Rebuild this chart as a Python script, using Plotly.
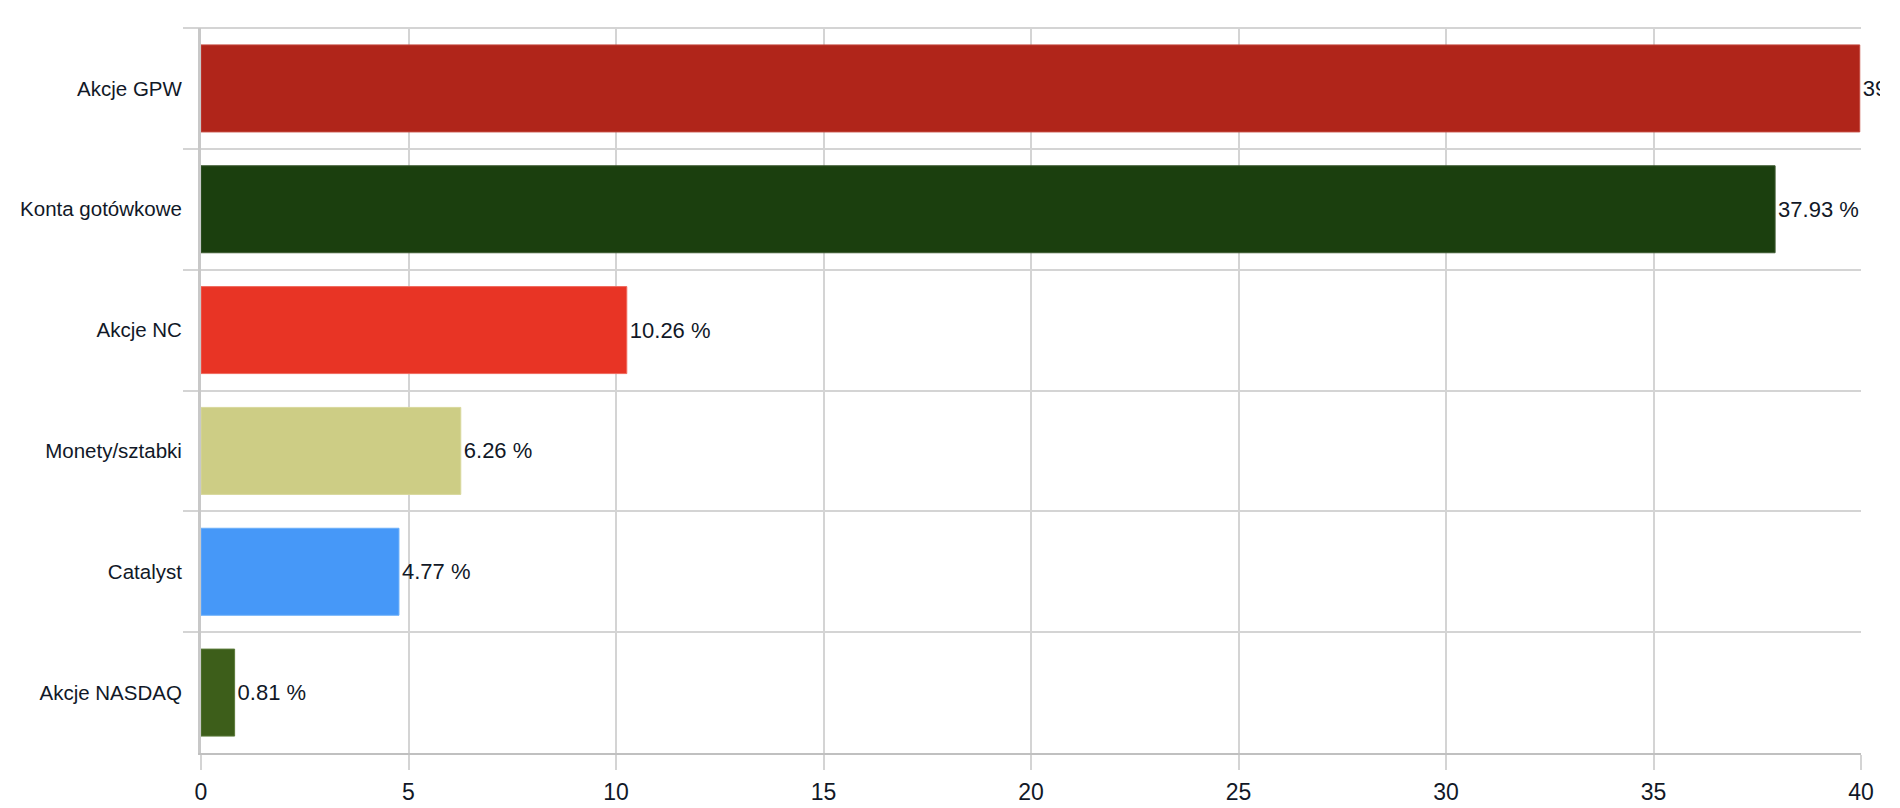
import plotly.graph_objects as go

categories = ["Akcje GPW", "Konta gotówkowe", "Akcje NC", "Monety/sztabki", "Catalyst", "Akcje NASDAQ"]
values = [39.97, 37.93, 10.26, 6.26, 4.77, 0.81]
labels = [f"{v:.2f} %" for v in values]
x_ticks = [0, 5, 10, 15, 20, 25, 30, 35, 40]

bar_colors = ["#b0251a", "#1b3f0e", "#e83425", "#cdcd85", "#4698f8", "#3d5e1a"]
edge_colors = ["#c4493f", "#3d5a30", "#f06a5e", "#d8d89c", "#6aaef9", "#5b7a3a"]

fig = go.Figure(go.Bar(
    y=categories, x=values, orientation="h",
    marker=dict(color=bar_colors, line=dict(color=edge_colors, width=1)),
    text=labels, textposition="outside", cliponaxis=False, constraintext="none",
    textfont=dict(size=22, color="#111827"),
    hoverinfo="skip",
))

grid = "#d4d4d4"
fig.update_layout(
    width=1880, height=808,
    margin=dict(l=201, r=19, t=28, b=55, autoexpand=False),
    paper_bgcolor="white", plot_bgcolor="white",
    font=dict(family="Arial, Liberation Sans, sans-serif", color="#111827"),
    bargap=0.28, showlegend=False,
)
fig.update_xaxes(
    range=[0, 40], tickvals=x_ticks, ticktext=[str(t) for t in x_ticks],
    automargin=False,
    showgrid=True, gridcolor=grid, gridwidth=1.5,
    ticks="outside", ticklen=15, tickcolor=grid, tickwidth=1.5,
    showline=True, linecolor="#c0c0c0", linewidth=2,
    zeroline=False, tickfont=dict(size=23, color="#111827"),
    ticklabelstandoff=2,
)
fig.update_yaxes(
    autorange="reversed", tickson="boundaries", automargin=False,
    showgrid=True, gridcolor=grid, gridwidth=1.5,
    ticks="outside", ticklen=15, tickcolor=grid, tickwidth=1.5,
    showline=True, linecolor="#c8c8c8", linewidth=3, mirror=False,
    tickfont=dict(size=20.5, color="#111827"),
    ticklabelstandoff=12,
)
fig.add_shape(type="line", xref="paper", yref="paper", x0=-15/1660, x1=1, y0=1, y1=1,
              line=dict(color=grid, width=2), layer="below")

fig.write_html("out.html")
